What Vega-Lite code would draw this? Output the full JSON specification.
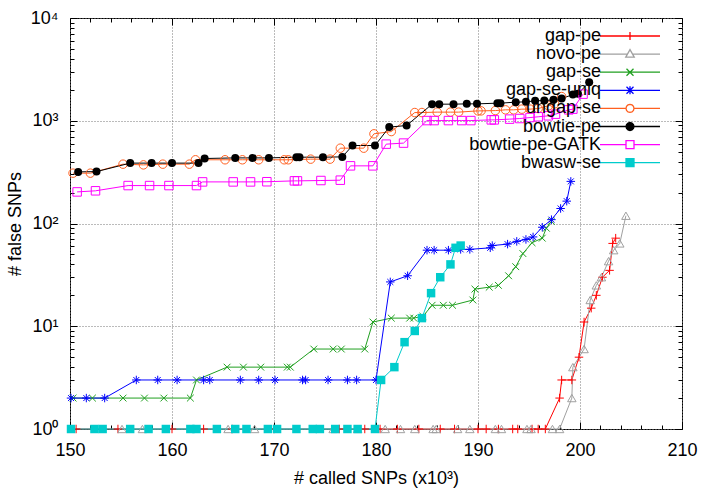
{
  "$schema": "https://vega.github.io/schema/vega-lite/v6.json",
  "width": 612,
  "height": 411,
  "autosize": "none",
  "padding": {"left": 70, "top": 18, "right": 19, "bottom": 59},
  "background": "white",
  "config": {
    "view": {"stroke": "black", "strokeWidth": 1},
    "font": "Liberation Sans",
    "axis": {"labelFont": "Liberation Sans", "titleFont": "Liberation Sans", "labelFontSize": 18, "titleFontSize": 18, "titleFontWeight": "normal", "labelColor": "black", "titleColor": "black", "tickColor": "black", "domain": false, "labelFlush": false}
  },
  "resolve": {"axis": {"x": "independent", "y": "independent"}},
  "data": {"values": [
    {"series":"gap-pe","x":150.6,"y":1},{"series":"gap-pe","x":154.7,"y":1},{"series":"gap-pe","x":160.0,"y":1},{"series":"gap-pe","x":163.1,"y":1},{"series":"gap-pe","x":165.9,"y":1},{"series":"gap-pe","x":170.0,"y":1},{"series":"gap-pe","x":176.4,"y":1},{"series":"gap-pe","x":178.9,"y":1},{"series":"gap-pe","x":180.4,"y":1},{"series":"gap-pe","x":182.1,"y":1},{"series":"gap-pe","x":184.2,"y":1},{"series":"gap-pe","x":186.3,"y":1},{"series":"gap-pe","x":187.7,"y":1},{"series":"gap-pe","x":190.0,"y":1},{"series":"gap-pe","x":190.8,"y":1},{"series":"gap-pe","x":192.0,"y":1},{"series":"gap-pe","x":193.4,"y":1},{"series":"gap-pe","x":193.9,"y":1},{"series":"gap-pe","x":195.3,"y":1},{"series":"gap-pe","x":195.9,"y":1},{"series":"gap-pe","x":196.6,"y":1},{"series":"gap-pe","x":198.0,"y":2},{"series":"gap-pe","x":198.2,"y":3},{"series":"gap-pe","x":199.2,"y":3},{"series":"gap-pe","x":199.9,"y":5},{"series":"gap-pe","x":200.4,"y":11},{"series":"gap-pe","x":201.1,"y":15},{"series":"gap-pe","x":201.6,"y":20},{"series":"gap-pe","x":202.2,"y":30},{"series":"gap-pe","x":202.9,"y":35},{"series":"gap-pe","x":203.2,"y":64},{"series":"gap-pe","x":203.5,"y":72},
    {"series":"novo-pe","x":155.1,"y":1},{"series":"novo-pe","x":157.1,"y":1},{"series":"novo-pe","x":165.5,"y":1},{"series":"novo-pe","x":168.1,"y":1},{"series":"novo-pe","x":175.8,"y":1},{"series":"novo-pe","x":178.2,"y":1},{"series":"novo-pe","x":180.9,"y":1},{"series":"novo-pe","x":182.4,"y":1},{"series":"novo-pe","x":183.8,"y":1},{"series":"novo-pe","x":185.6,"y":1},{"series":"novo-pe","x":185.9,"y":1},{"series":"novo-pe","x":188.0,"y":1},{"series":"novo-pe","x":189.2,"y":1},{"series":"novo-pe","x":191.7,"y":1},{"series":"novo-pe","x":192.3,"y":1},{"series":"novo-pe","x":194.8,"y":1},{"series":"novo-pe","x":195.2,"y":1},{"series":"novo-pe","x":197.3,"y":1},{"series":"novo-pe","x":198.0,"y":1},{"series":"novo-pe","x":199.2,"y":2},{"series":"novo-pe","x":199.3,"y":4},{"series":"novo-pe","x":200.4,"y":6},{"series":"novo-pe","x":201.0,"y":18},{"series":"novo-pe","x":201.6,"y":25},{"series":"novo-pe","x":202.1,"y":30},{"series":"novo-pe","x":202.8,"y":43},{"series":"novo-pe","x":203.3,"y":55},{"series":"novo-pe","x":203.9,"y":64},{"series":"novo-pe","x":204.5,"y":119},
    {"series":"gap-se","x":150.3,"y":2},{"series":"gap-se","x":152.2,"y":2},{"series":"gap-se","x":155.2,"y":2},{"series":"gap-se","x":157.3,"y":2},{"series":"gap-se","x":159.2,"y":2},{"series":"gap-se","x":161.8,"y":2},{"series":"gap-se","x":162.4,"y":3},{"series":"gap-se","x":165.4,"y":4},{"series":"gap-se","x":167.0,"y":4},{"series":"gap-se","x":168.7,"y":4},{"series":"gap-se","x":171.3,"y":4},{"series":"gap-se","x":171.6,"y":4},{"series":"gap-se","x":173.9,"y":6},{"series":"gap-se","x":175.8,"y":6},{"series":"gap-se","x":176.6,"y":6},{"series":"gap-se","x":178.9,"y":6},{"series":"gap-se","x":179.7,"y":11},{"series":"gap-se","x":181.5,"y":12},{"series":"gap-se","x":183.3,"y":12},{"series":"gap-se","x":183.7,"y":12},{"series":"gap-se","x":184.6,"y":12.5},{"series":"gap-se","x":185.5,"y":16},{"series":"gap-se","x":186.6,"y":16},{"series":"gap-se","x":187.5,"y":16},{"series":"gap-se","x":189.5,"y":18},{"series":"gap-se","x":189.7,"y":23},{"series":"gap-se","x":191.1,"y":24},{"series":"gap-se","x":192.0,"y":25},{"series":"gap-se","x":193.0,"y":31},{"series":"gap-se","x":193.7,"y":38},{"series":"gap-se","x":194.4,"y":51},{"series":"gap-se","x":195.3,"y":65},{"series":"gap-se","x":196.3,"y":72},{"series":"gap-se","x":196.7,"y":90},{"series":"gap-se","x":197.2,"y":105},
    {"series":"gap-se-uniq","x":150.1,"y":2},{"series":"gap-se-uniq","x":151.6,"y":2},{"series":"gap-se-uniq","x":153.4,"y":2},{"series":"gap-se-uniq","x":156.5,"y":3},{"series":"gap-se-uniq","x":158.6,"y":3},{"series":"gap-se-uniq","x":160.5,"y":3},{"series":"gap-se-uniq","x":163.1,"y":3},{"series":"gap-se-uniq","x":163.7,"y":3},{"series":"gap-se-uniq","x":166.7,"y":3},{"series":"gap-se-uniq","x":168.5,"y":3},{"series":"gap-se-uniq","x":170.1,"y":3},{"series":"gap-se-uniq","x":172.8,"y":3},{"series":"gap-se-uniq","x":173.1,"y":3},{"series":"gap-se-uniq","x":175.3,"y":3},{"series":"gap-se-uniq","x":177.2,"y":3},{"series":"gap-se-uniq","x":178.1,"y":3},{"series":"gap-se-uniq","x":180.0,"y":3},{"series":"gap-se-uniq","x":181.4,"y":27},{"series":"gap-se-uniq","x":183.1,"y":31},{"series":"gap-se-uniq","x":185.0,"y":55},{"series":"gap-se-uniq","x":185.7,"y":55},{"series":"gap-se-uniq","x":187.1,"y":55},{"series":"gap-se-uniq","x":188.3,"y":56},{"series":"gap-se-uniq","x":189.2,"y":56},{"series":"gap-se-uniq","x":191.2,"y":58},{"series":"gap-se-uniq","x":191.4,"y":61},{"series":"gap-se-uniq","x":192.9,"y":63},{"series":"gap-se-uniq","x":193.8,"y":67},{"series":"gap-se-uniq","x":194.7,"y":70},{"series":"gap-se-uniq","x":195.4,"y":74},{"series":"gap-se-uniq","x":196.3,"y":92},{"series":"gap-se-uniq","x":197.2,"y":109},{"series":"gap-se-uniq","x":198.1,"y":140},{"series":"gap-se-uniq","x":198.7,"y":165},{"series":"gap-se-uniq","x":199.1,"y":257},
    {"series":"ungap-se","x":150.3,"y":309},{"series":"ungap-se","x":152.0,"y":309},{"series":"ungap-se","x":155.2,"y":378},{"series":"ungap-se","x":157.2,"y":372},{"series":"ungap-se","x":159.1,"y":378},{"series":"ungap-se","x":161.7,"y":378},{"series":"ungap-se","x":162.3,"y":417},{"series":"ungap-se","x":165.2,"y":417},{"series":"ungap-se","x":166.9,"y":417},{"series":"ungap-se","x":168.5,"y":417},{"series":"ungap-se","x":171.0,"y":417},{"series":"ungap-se","x":171.4,"y":417},{"series":"ungap-se","x":173.6,"y":423},{"series":"ungap-se","x":175.5,"y":423},{"series":"ungap-se","x":176.5,"y":541},{"series":"ungap-se","x":178.8,"y":541},{"series":"ungap-se","x":179.8,"y":746},{"series":"ungap-se","x":181.5,"y":785},{"series":"ungap-se","x":183.8,"y":1202},{"series":"ungap-se","x":184.5,"y":1202},{"series":"ungap-se","x":186.0,"y":1213},{"series":"ungap-se","x":187.3,"y":1213},{"series":"ungap-se","x":188.1,"y":1213},{"series":"ungap-se","x":190.0,"y":1248},{"series":"ungap-se","x":190.3,"y":1248},{"series":"ungap-se","x":191.7,"y":1256},{"series":"ungap-se","x":192.7,"y":1277},{"series":"ungap-se","x":193.5,"y":1277},{"series":"ungap-se","x":194.3,"y":1297},{"series":"ungap-se","x":195.1,"y":1297},{"series":"ungap-se","x":195.9,"y":1315},{"series":"ungap-se","x":196.9,"y":1397},{"series":"ungap-se","x":197.5,"y":1460},{"series":"ungap-se","x":198.2,"y":1720},
    {"series":"bowtie-pe","x":150.8,"y":318},{"series":"bowtie-pe","x":152.6,"y":320},{"series":"bowtie-pe","x":155.9,"y":387},{"series":"bowtie-pe","x":158.0,"y":387},{"series":"bowtie-pe","x":160.0,"y":387},{"series":"bowtie-pe","x":162.6,"y":387},{"series":"bowtie-pe","x":163.2,"y":429},{"series":"bowtie-pe","x":166.2,"y":435},{"series":"bowtie-pe","x":167.9,"y":435},{"series":"bowtie-pe","x":169.5,"y":435},{"series":"bowtie-pe","x":172.2,"y":442},{"series":"bowtie-pe","x":172.5,"y":442},{"series":"bowtie-pe","x":174.8,"y":442},{"series":"bowtie-pe","x":176.7,"y":445},{"series":"bowtie-pe","x":177.7,"y":574},{"series":"bowtie-pe","x":179.9,"y":574},{"series":"bowtie-pe","x":181.3,"y":867},{"series":"bowtie-pe","x":183.0,"y":899},{"series":"bowtie-pe","x":185.5,"y":1450},{"series":"bowtie-pe","x":186.2,"y":1450},{"series":"bowtie-pe","x":187.6,"y":1450},{"series":"bowtie-pe","x":188.9,"y":1460},{"series":"bowtie-pe","x":189.9,"y":1460},{"series":"bowtie-pe","x":191.9,"y":1483},{"series":"bowtie-pe","x":192.2,"y":1483},{"series":"bowtie-pe","x":193.7,"y":1517},{"series":"bowtie-pe","x":194.7,"y":1527},{"series":"bowtie-pe","x":195.6,"y":1563},{"series":"bowtie-pe","x":196.5,"y":1573},{"series":"bowtie-pe","x":197.4,"y":1597},{"series":"bowtie-pe","x":198.2,"y":1645},{"series":"bowtie-pe","x":199.3,"y":1798},{"series":"bowtie-pe","x":199.8,"y":1827},{"series":"bowtie-pe","x":200.9,"y":2373},
    {"series":"bowtie-pe-GATK","x":150.7,"y":203},{"series":"bowtie-pe-GATK","x":152.5,"y":208},{"series":"bowtie-pe-GATK","x":155.7,"y":234},{"series":"bowtie-pe-GATK","x":157.8,"y":234},{"series":"bowtie-pe-GATK","x":159.7,"y":234},{"series":"bowtie-pe-GATK","x":162.4,"y":234},{"series":"bowtie-pe-GATK","x":163.0,"y":254},{"series":"bowtie-pe-GATK","x":166.0,"y":254},{"series":"bowtie-pe-GATK","x":167.7,"y":254},{"series":"bowtie-pe-GATK","x":169.3,"y":255},{"series":"bowtie-pe-GATK","x":172.0,"y":260},{"series":"bowtie-pe-GATK","x":172.3,"y":260},{"series":"bowtie-pe-GATK","x":174.6,"y":262},{"series":"bowtie-pe-GATK","x":176.5,"y":264},{"series":"bowtie-pe-GATK","x":177.5,"y":364},{"series":"bowtie-pe-GATK","x":179.7,"y":364},{"series":"bowtie-pe-GATK","x":181.0,"y":592},{"series":"bowtie-pe-GATK","x":182.7,"y":606},{"series":"bowtie-pe-GATK","x":185.0,"y":1004},{"series":"bowtie-pe-GATK","x":185.7,"y":1004},{"series":"bowtie-pe-GATK","x":187.1,"y":1004},{"series":"bowtie-pe-GATK","x":188.4,"y":1004},{"series":"bowtie-pe-GATK","x":189.3,"y":1004},{"series":"bowtie-pe-GATK","x":191.3,"y":1020},{"series":"bowtie-pe-GATK","x":191.6,"y":1020},{"series":"bowtie-pe-GATK","x":193.1,"y":1037},{"series":"bowtie-pe-GATK","x":194.1,"y":1051},{"series":"bowtie-pe-GATK","x":195.1,"y":1074},{"series":"bowtie-pe-GATK","x":195.9,"y":1093},{"series":"bowtie-pe-GATK","x":196.9,"y":1117},{"series":"bowtie-pe-GATK","x":197.6,"y":1159},{"series":"bowtie-pe-GATK","x":198.9,"y":1277},{"series":"bowtie-pe-GATK","x":199.3,"y":1297},{"series":"bowtie-pe-GATK","x":200.3,"y":1815},
    {"series":"bwasw-se","x":150.1,"y":1},{"series":"bwasw-se","x":152.4,"y":1},{"series":"bwasw-se","x":153.2,"y":1},{"series":"bwasw-se","x":155.9,"y":1},{"series":"bwasw-se","x":157.7,"y":1},{"series":"bwasw-se","x":159.4,"y":1},{"series":"bwasw-se","x":161.8,"y":1},{"series":"bwasw-se","x":162.4,"y":1},{"series":"bwasw-se","x":164.4,"y":1},{"series":"bwasw-se","x":166.2,"y":1},{"series":"bwasw-se","x":167.3,"y":1},{"series":"bwasw-se","x":169.4,"y":1},{"series":"bwasw-se","x":170.3,"y":1},{"series":"bwasw-se","x":172.2,"y":1},{"series":"bwasw-se","x":173.8,"y":1},{"series":"bwasw-se","x":174.5,"y":1},{"series":"bwasw-se","x":176.0,"y":1},{"series":"bwasw-se","x":177.2,"y":1},{"series":"bwasw-se","x":178.2,"y":1},{"series":"bwasw-se","x":179.9,"y":1},{"series":"bwasw-se","x":180.5,"y":3},{"series":"bwasw-se","x":181.8,"y":4},{"series":"bwasw-se","x":182.8,"y":7},{"series":"bwasw-se","x":183.8,"y":9},{"series":"bwasw-se","x":184.5,"y":12},{"series":"bwasw-se","x":185.4,"y":21},{"series":"bwasw-se","x":186.3,"y":30},{"series":"bwasw-se","x":187.3,"y":40},{"series":"bwasw-se","x":187.8,"y":58},{"series":"bwasw-se","x":188.3,"y":61}
  ]},
  "encoding": {
    "x": {"field": "x", "type": "quantitative", "scale": {"domain": [150, 210], "nice": false, "zero": false}, "axis": null},
    "y": {"field": "y", "type": "quantitative", "scale": {"type": "log", "domain": [1, 10000], "nice": false}, "axis": null}
  },
  "layer": [
    {
      "mark": {"type": "line", "strokeWidth": 1},
      "encoding": {
        "x": {"field": "x", "type": "quantitative", "scale": {"domain": [150, 210], "nice": false, "zero": false},
          "axis": {"orient": "bottom", "values": [150,160,170,180,190,200,210], "grid": true, "gridDash": [1,2], "gridColor": "#777777", "gridWidth": 1, "tickSize": -7, "labelPadding": 19, "title": "# called SNPs (x10³)", "titlePadding": 10}},
        "y": {"field": "y", "type": "quantitative", "scale": {"type": "log", "domain": [1, 10000], "nice": false},
          "axis": {"orient": "left", "values": [1,10,100,1000,10000], "labelExpr": "'10' + ['⁰','¹','²','³','⁴'][round(log(datum.value)/LN10)]", "grid": true, "gridDash": [1,2], "gridColor": "#777777", "gridWidth": 1, "tickSize": -7, "labelPadding": 19, "title": "# false SNPs", "titleX": -55, "titleBaseline": "middle"}},
        "color": {"field": "series", "type": "nominal",
          "scale": {"domain": ["gap-pe","novo-pe","gap-se","gap-se-uniq","ungap-se","bowtie-pe","bowtie-pe-GATK","bwasw-se"],
                    "range": ["#ff0000","#a0a0a0","#20a020","#0000ff","#ff6020","#000000","#ff00ff","#00cccc"]},
          "legend": {
            "orient": "none", "legendX": 551, "legendY": 9, "title": null, "padding": 0,
            "labelAlign": "right", "labelBaseline": "middle", "labelOffset": -38, "labelFont": "Liberation Sans", "labelFontSize": 18, "labelColor": "black", "labelLimit": 300,
            "symbolSize": 100, "symbolStrokeWidth": 1.3, "rowPadding": 0.1,
            "encoding": {
              "symbols": {
                "shape": {"condition": [
                  {"test": "datum.value === 'gap-pe'", "value": "M-6,0H6M0,-0.8V0.8"},
                  {"test": "datum.value === 'novo-pe'", "value": "M-6,0H-0.5M0.5,0H6M0,-0.9L0.85,0.6H-0.85Z"},
                  {"test": "datum.value === 'gap-se'", "value": "M-6,0H6M-0.7,-0.7L0.7,0.7M-0.7,0.7L0.7,-0.7"},
                  {"test": "datum.value === 'gap-se-uniq'", "value": "M-6,0H6M0,-0.8V0.8M-0.7,-0.7L0.7,0.7M-0.7,0.7L0.7,-0.7"},
                  {"test": "datum.value === 'ungap-se' || datum.value === 'bowtie-pe'", "value": "M-6,0H-0.8M0.8,0H6M0.8,0L0.693,0.4L0.4,0.693L0,0.8L-0.4,0.693L-0.693,0.4L-0.8,0L-0.693,-0.4L-0.4,-0.693L0,-0.8L0.4,-0.693L0.693,-0.4Z"}
                ], "value": "M-6,0H-0.8M0.8,0H6M-0.8,-0.8H0.8V0.8H-0.8Z"},
                "fill": {"condition": [
                  {"test": "datum.value === 'bowtie-pe'", "value": "#000000"},
                  {"test": "datum.value === 'bwasw-se'", "value": "#00cccc"}
                ], "value": "transparent"},
                "strokeWidth": {"value": 1.3},
                "opacity": {"value": 1}
              }
            }
          }
        }
      }
    },
    {
      "transform": [{"filter": {"field": "series", "equal": "gap-pe"}}],
      "mark": {"type": "point", "filled": false, "color": "#ff0000", "shape": "M-1,0H1M0,-1V1", "strokeWidth": 1, "size": 72, "opacity": 1},
      "encoding": {
        "x": {"field": "x", "type": "quantitative", "scale": {"domain": [150, 210], "nice": false, "zero": false},
          "axis": {"orient": "top", "values": [150,160,170,180,190,200,210], "grid": false, "labels": false, "tickSize": -7, "title": null}},
        "y": {"field": "y", "type": "quantitative", "scale": {"type": "log", "domain": [1, 10000], "nice": false},
          "axis": {"orient": "right", "values": [1,10,100,1000,10000], "grid": false, "labels": false, "tickSize": -7, "title": null}}
      }
    },
    {
      "transform": [{"filter": {"field": "series", "equal": "novo-pe"}}],
      "mark": {"type": "point", "filled": false, "color": "#a0a0a0", "shape": "triangle-up", "strokeWidth": 1, "size": 72, "opacity": 1},
      "encoding": {
        "x": {"field": "x", "type": "quantitative", "scale": {"domain": [150, 210], "nice": false, "zero": false},
          "axis": {"orient": "bottom", "values": [152,154,156,158,162,164,166,168,172,174,176,178,182,184,186,188,192,194,196,198,202,204,206,208], "grid": false, "labels": false, "tickSize": -4, "title": null}},
        "y": {"field": "y", "type": "quantitative", "scale": {"type": "log", "domain": [1, 10000], "nice": false},
          "axis": {"orient": "left", "values": [2,3,4,5,6,7,8,9,20,30,40,50,60,70,80,90,200,300,400,500,600,700,800,900,2000,3000,4000,5000,6000,7000,8000,9000], "grid": false, "labels": false, "tickSize": -4, "title": null}}
      }
    },
    {
      "transform": [{"filter": {"field": "series", "equal": "gap-se"}}],
      "mark": {"type": "point", "filled": false, "color": "#20a020", "shape": "M-0.8,-0.8L0.8,0.8M-0.8,0.8L0.8,-0.8", "strokeWidth": 1, "size": 72, "opacity": 1},
      "encoding": {
        "x": {"field": "x", "type": "quantitative", "scale": {"domain": [150, 210], "nice": false, "zero": false},
          "axis": {"orient": "top", "values": [152,154,156,158,162,164,166,168,172,174,176,178,182,184,186,188,192,194,196,198,202,204,206,208], "grid": false, "labels": false, "tickSize": -4, "title": null}},
        "y": {"field": "y", "type": "quantitative", "scale": {"type": "log", "domain": [1, 10000], "nice": false},
          "axis": {"orient": "right", "values": [2,3,4,5,6,7,8,9,20,30,40,50,60,70,80,90,200,300,400,500,600,700,800,900,2000,3000,4000,5000,6000,7000,8000,9000], "grid": false, "labels": false, "tickSize": -4, "title": null}}
      }
    },
    {
      "transform": [{"filter": {"field": "series", "equal": "gap-se-uniq"}}],
      "mark": {"type": "point", "filled": false, "color": "#0000ff", "shape": "M-1,0H1M0,-1V1M-0.7,-0.7L0.7,0.7M-0.7,0.7L0.7,-0.7", "strokeWidth": 1, "size": 72, "opacity": 1}
    },
    {
      "transform": [{"filter": {"field": "series", "equal": "ungap-se"}}],
      "mark": {"type": "point", "filled": false, "color": "#ff6020", "shape": "circle", "strokeWidth": 1, "size": 72, "opacity": 1}
    },
    {
      "transform": [{"filter": {"field": "series", "equal": "bowtie-pe"}}],
      "mark": {"type": "point", "filled": true, "color": "#000000", "shape": "circle", "size": 64, "opacity": 1}
    },
    {
      "transform": [{"filter": {"field": "series", "equal": "bowtie-pe-GATK"}}],
      "mark": {"type": "point", "filled": false, "color": "#ff00ff", "shape": "square", "strokeWidth": 1, "size": 72, "opacity": 1}
    },
    {
      "transform": [{"filter": {"field": "series", "equal": "bwasw-se"}}],
      "mark": {"type": "point", "filled": true, "color": "#00cccc", "shape": "square", "size": 72, "opacity": 1}
    }
  ]
}
